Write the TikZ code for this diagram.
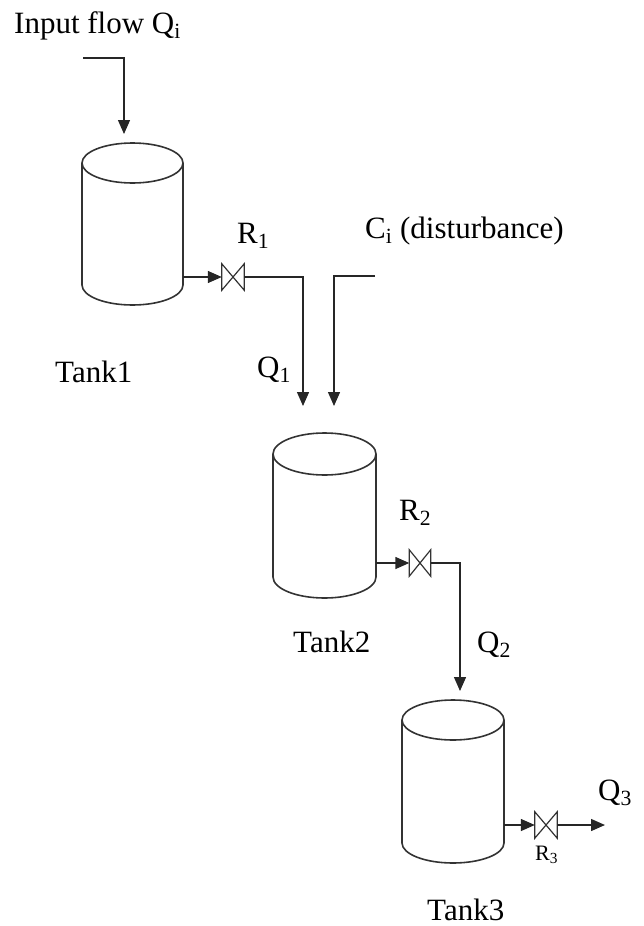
\documentclass[tikz,border=0pt]{standalone}
\usepackage{fontspec}
\setmainfont{Liberation Serif}
\usetikzlibrary{arrows.meta}

\tikzset{
  pipe/.style={line width=1.4pt, draw=black!85},
  flow/.style={pipe, -{Triangle[length=14pt,width=12pt]}},
  tankline/.style={line width=1.6pt, draw=black!80},
  valvebox/.style={rectangle, inner sep=0pt, minimum width=22pt, minimum height=26pt},
  valveline/.style={line width=1.2pt, draw=black!80},
  lbl/.style={inner sep=0pt, anchor=base west, font=\fontsize{31}{35}\selectfont},
  smalllbl/.style={inner sep=0pt, anchor=base west, font=\fontsize{22}{26}\selectfont},
}

% vertical tank: #1 name, #2 centre x, #3 top centre y, #4 bottom centre y, #5 rx, #6 ry
\newcommand{\drawtank}[6]{%
  \node[rectangle, inner sep=0pt, minimum width=2*#5 pt, minimum height=#4pt-#3pt]
    (#1) at (#2,{(#3+#4)/2}) {};
  \draw[tankline] (#2,#3) ellipse [x radius=#5, y radius=#6];
  \draw[tankline] ({#2-#5},#3) -- ({#2-#5},#4)
    arc [start angle=180, end angle=360, x radius=#5, y radius=-#6]
    -- ({#2+#5},#3);
}
% bowtie valve drawn on a named box
\newcommand{\drawvalve}[1]{%
  \draw[valveline] (#1.north west) -- (#1.south east) -- (#1.north east)
    -- (#1.south west) -- cycle;
}

\begin{document}
\begin{tikzpicture}[x=1pt,y=-1pt]
\useasboundingbox (0,0) rectangle (643,926);

% tanks
\drawtank{tankA}{132.5}{163}{285}{50.5}{20}
\drawtank{tankB}{324.5}{454}{577}{51.5}{21}
\drawtank{tankC}{453}{720}{843}{51}{20}

% valves
\node[valvebox] (v1) at (233,277) {};
\node[valvebox, minimum width=21pt] (v2) at (420,563) {};
\node[valvebox] (v3) at (546,825) {};
\drawvalve{v1}
\drawvalve{v2}
\drawvalve{v3}

% pipe end points
\coordinate (inS) at (83,58);
\coordinate (inT) at (124,134);
\coordinate (t1out) at (183,277);
\coordinate (q1T) at (303,406);
\coordinate (dS) at (375,276);
\coordinate (dT) at (334,406);
\coordinate (t2out) at (376,563);
\coordinate (q2T) at (460,691);
\coordinate (t3out) at (504,825);
\coordinate (q3T) at (605,825);

% flows
\draw[flow] (inS) -| (inT);
\draw[flow] (t1out) -- (v1.west);
\draw[flow] (v1.east) -| (q1T);
\draw[flow] (dS) -| (dT);
\draw[flow] (t2out) -- (v2.west);
\draw[flow] (v2.east) -| (q2T);
\draw[flow] (t3out) -- (v3.west);
\draw[flow] (v3.east) -- (q3T);

% labels
\node[lbl] (lin) at (14,33) {Input flow Q\textsubscript{i}};
\node[lbl] (lr1) at (237,243) {R\textsubscript{1}};
\node[lbl] (ldist) at (365,238) {C\textsubscript{i} (disturbance)};
\node[lbl] (lq1) at (257,377) {Q\textsubscript{1}};
\node[lbl] (lt1) at (55,382) {Tank1};
\node[lbl] (lr2) at (399,520) {R\textsubscript{2}};
\node[lbl] (lt2) at (293,652) {Tank2};
\node[lbl] (lq2) at (477,652) {Q\textsubscript{2}};
\node[lbl] (lq3) at (598,800) {Q\textsubscript{3}};
\node[smalllbl] (lr3) at (535,860) {R\textsubscript{3}};
\node[lbl] (lt3) at (427,920) {Tank3};
\end{tikzpicture}
\end{document}
